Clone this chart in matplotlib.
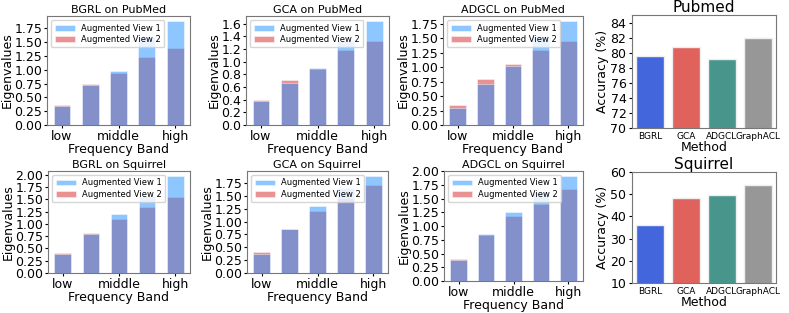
import numpy as np
import matplotlib.pyplot as plt

bands = ["low", "middle", "high"]
methods = ["BGRL", "GCA", "ADGCL", "GraphACL"]

# eigenvalues per frequency band (5 bands), view 1 / view 2
bgrl_pub_v1 = [0.34, 0.73, 0.98, 1.59, 1.88]
bgrl_pub_v2 = [0.36, 0.75, 0.95, 1.24, 1.40]
gca_pub_v1 = [0.38, 0.67, 0.90, 1.33, 1.64]
gca_pub_v2 = [0.39, 0.71, 0.88, 1.18, 1.32]
adgcl_pub_v1 = [0.30, 0.71, 1.02, 1.55, 1.80]
adgcl_pub_v2 = [0.35, 0.79, 1.06, 1.30, 1.46]

bgrl_sq_v1 = [0.38, 0.79, 1.20, 1.57, 1.98]
bgrl_sq_v2 = [0.40, 0.81, 1.10, 1.35, 1.55]
gca_sq_v1 = [0.37, 0.86, 1.30, 1.65, 1.89]
gca_sq_v2 = [0.40, 0.85, 1.20, 1.46, 1.71]
adgcl_sq_v1 = [0.39, 0.85, 1.25, 1.62, 1.91]
adgcl_sq_v2 = [0.41, 0.84, 1.19, 1.41, 1.67]

acc_pubmed = [79.6, 80.8, 79.2, 82.0]
acc_squirrel = [36.2, 48.2, 49.8, 54.2]

acc_colors = ["#4466dd", "#e0625c", "#48968b", "#979797"]

W, H = 789, 313
fig = plt.figure(figsize=(W / 100, H / 100), dpi=100)


def ax_px(x0, y0, x1, y1):
    return fig.add_axes([x0 / W, 1 - y1 / H, (x1 - x0) / W, (y1 - y0) / H])


def eig_plot(ax, v1, v2, title, yticks, fmt):
    x = np.arange(len(v1))
    ax.bar(x, v1, width=0.6, color="dodgerblue", alpha=0.5, edgecolor="white",
           linewidth=0.6, label="Augmented View 1", zorder=3)
    ax.bar(x, v2, width=0.6, color="#d62728", alpha=0.5, edgecolor="white",
           linewidth=0.6, label="Augmented View 2", zorder=2)
    ax.set_xticks([0, 2, 4])
    ax.set_xticklabels(bands)
    ax.set_yticks(yticks)
    ax.set_yticklabels([fmt.format(t) for t in yticks])
    ax.tick_params(labelsize=9, length=2.5, pad=1)
    ax.set_ylabel("Eigenvalues", fontsize=9, labelpad=0.5)
    ax.set_xlabel("Frequency Band", fontsize=9, labelpad=0)
    ax.set_title(title, fontsize=8, pad=2)
    ax.legend(loc="upper left", fontsize=6, handlelength=2.4, borderpad=0.4,
              labelspacing=0.3)
    for s in ax.spines.values():
        s.set_color("#777777")


def acc_plot(ax, vals, title, ylim, yticks):
    x = np.arange(len(vals))
    ax.bar(x, vals, width=0.8, color=acc_colors, edgecolor="#eeeeee", linewidth=1)
    ax.set_xlim(-0.5, 3.5)
    ax.set_ylim(*ylim)
    ax.set_yticks(yticks)
    ax.set_xticks(x)
    ax.set_xticklabels(methods, fontsize=6.5)
    ax.tick_params(axis="y", labelsize=9, length=2.5, pad=1.5)
    ax.tick_params(axis="x", length=0, pad=3)
    ax.set_ylabel("Accuracy (%)", fontsize=9, labelpad=1)
    ax.set_xlabel("Method", fontsize=9, labelpad=0)
    ax.set_title(title, fontsize=11, pad=2)
    for s in ax.spines.values():
        s.set_color("#777777")


q175 = np.arange(0, 1.76, 0.25)
q200 = np.arange(0, 2.01, 0.25)
g16 = np.arange(0, 1.61, 0.2)

eig_plot(ax_px(47, 16, 190, 125), bgrl_pub_v1, bgrl_pub_v2, "BGRL on PubMed", q175, "{:.2f}")
eig_plot(ax_px(246, 16, 389, 125), gca_pub_v1, gca_pub_v2, "GCA on PubMed", g16, "{:.1f}")
eig_plot(ax_px(443, 16, 583, 125), adgcl_pub_v1, adgcl_pub_v2, "ADGCL on PubMed", q175, "{:.2f}")
acc_plot(ax_px(632, 15, 776, 128), acc_pubmed, "Pubmed", (70, 85),
         [70, 72, 74, 76, 78, 80, 82, 84])

eig_plot(ax_px(48, 171, 190, 273), bgrl_sq_v1, bgrl_sq_v2, "BGRL on Squirrel", q200, "{:.2f}")
eig_plot(ax_px(247, 171, 388, 273), gca_sq_v1, gca_sq_v2, "GCA on Squirrel", q175, "{:.2f}")
eig_plot(ax_px(444, 171, 583, 281), adgcl_sq_v1, adgcl_sq_v2, "ADGCL on Squirrel", q200, "{:.2f}")
acc_plot(ax_px(632, 172, 776, 283), acc_squirrel, "Squirrel", (10, 60),
         [10, 20, 30, 40, 50, 60])

fig.savefig("out.png", dpi=100)
